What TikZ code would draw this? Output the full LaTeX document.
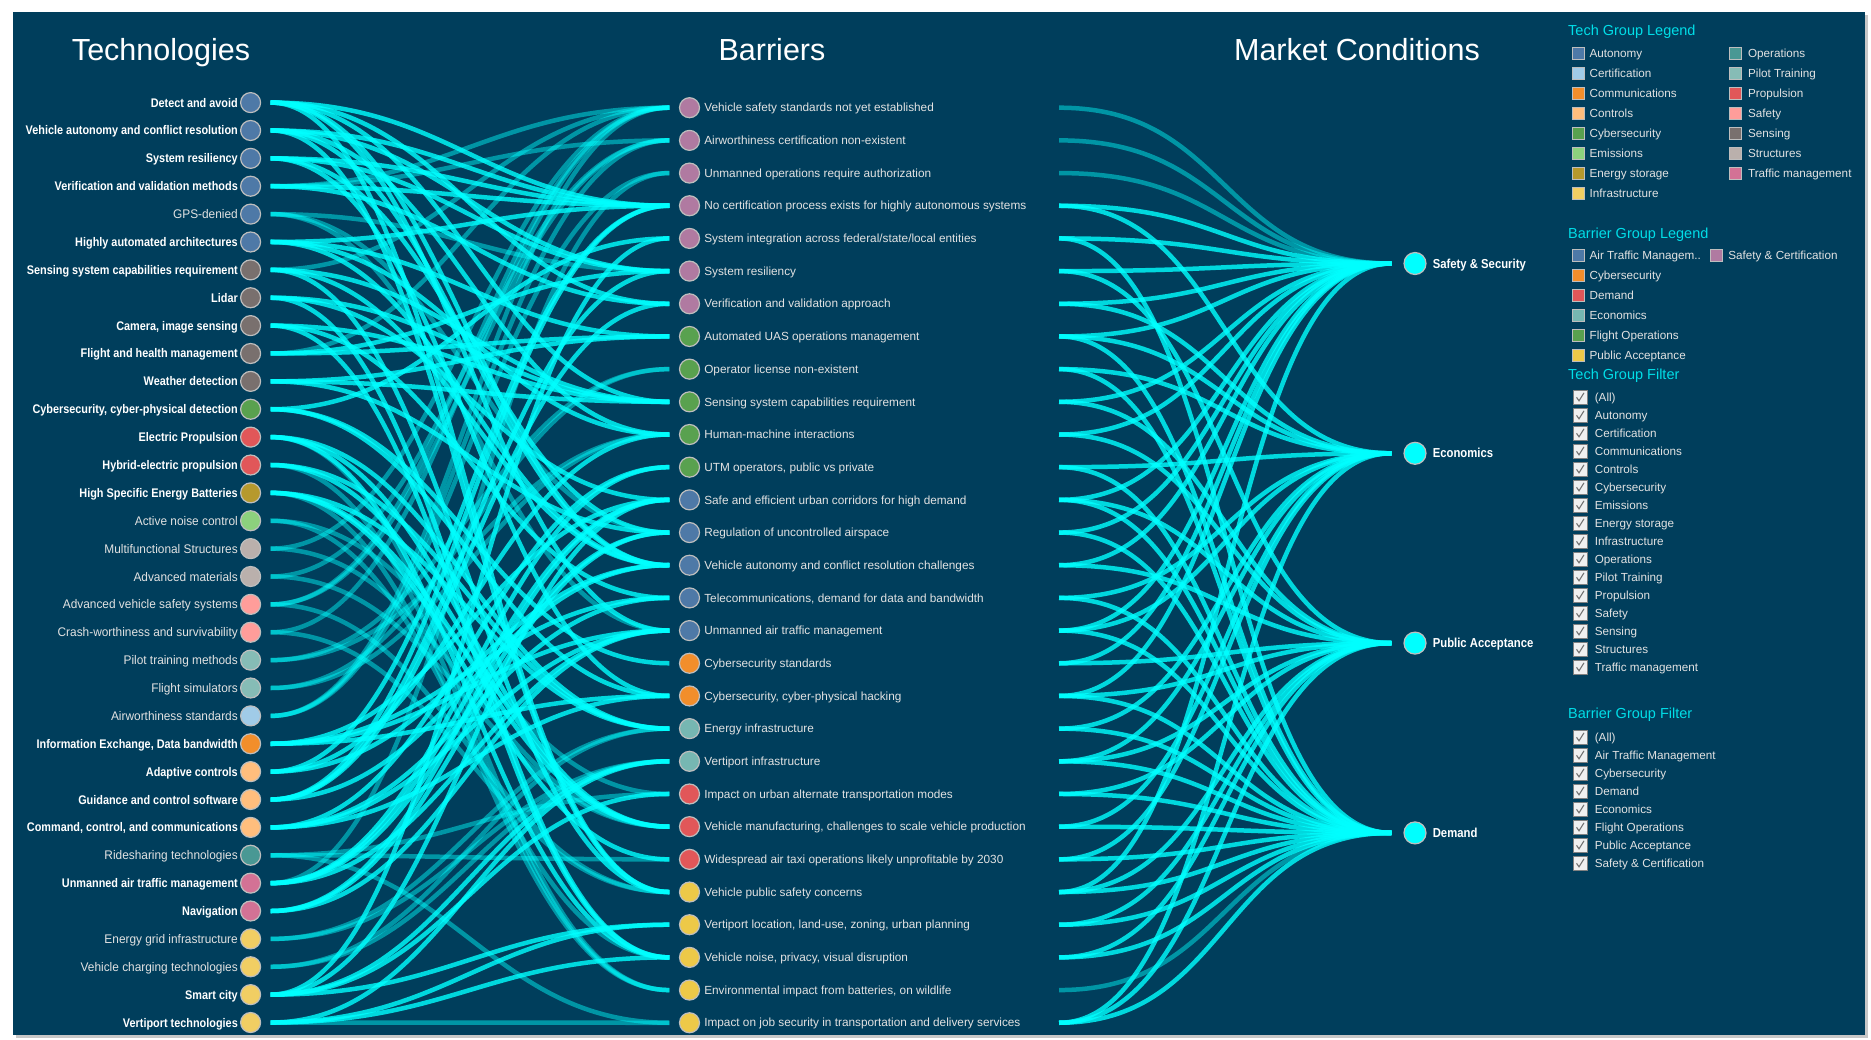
\documentclass[tikz,border=0pt]{standalone}
\usepackage{fontspec}
\setmainfont{Liberation Sans}
\newfontfamily\narrowfont{Liberation Sans}[FakeStretch=0.87]
\newfontfamily\slimfont{Liberation Sans}[FakeStretch=0.95]
\usepackage{tikz}
\usetikzlibrary{positioning}

\definecolor{bgblue}{RGB}{0,62,92}
\definecolor{flowcyan}{RGB}{0,255,255}
\definecolor{headcyan}{RGB}{0,222,232}
\definecolor{softwhite}{RGB}{226,226,226}
\definecolor{ringgray}{RGB}{190,190,190}
% group colours
\definecolor{gAut}{RGB}{78,121,167}
\definecolor{gCer}{RGB}{160,203,232}
\definecolor{gCom}{RGB}{242,142,43}
\definecolor{gCtl}{RGB}{255,190,125}
\definecolor{gCyb}{RGB}{89,161,79}
\definecolor{gEmi}{RGB}{140,209,125}
\definecolor{gEne}{RGB}{182,153,45}
\definecolor{gInf}{RGB}{241,206,99}
\definecolor{gOps}{RGB}{73,152,148}
\definecolor{gPil}{RGB}{134,188,182}
\definecolor{gPro}{RGB}{225,87,89}
\definecolor{gSaf}{RGB}{255,157,154}
\definecolor{gSen}{RGB}{121,112,110}
\definecolor{gStr}{RGB}{186,176,172}
\definecolor{gTra}{RGB}{211,114,149}
\definecolor{bEco}{RGB}{118,183,178}
\definecolor{bPub}{RGB}{237,201,72}
\definecolor{bSC}{RGB}{176,122,161}

\begin{document}
\begin{tikzpicture}[x=1pt, y=-1pt,
    dot/.style={circle, minimum size=20pt, inner sep=0pt, draw=ringgray, line width=1.2pt},
    bigdot/.style={circle, minimum size=22pt, inner sep=0pt, fill=flowcyan, draw=ringgray, line width=1.2pt},
    techbold/.style={inner sep=0pt, text height=9pt, text depth=0pt, text=white, font=\narrowfont\bfseries\fontsize{12.5}{14}\selectfont},
    technorm/.style={inner sep=0pt, text height=9pt, text depth=0pt, text=softwhite, font=\slimfont\fontsize{12.5}{14}\selectfont},
    barlbl/.style={inner sep=0pt, text height=8.4pt, text depth=0pt, text=softwhite, font=\fontsize{11.8}{14}\selectfont},
    mktlbl/.style={techbold, font=\narrowfont\bfseries\fontsize{13}{15}\selectfont},
    heading/.style={anchor=base, text=white, font=\fontsize{30.5}{34}\selectfont},
    legtitle/.style={anchor=mid west, inner sep=0pt, text=headcyan, font=\fontsize{14.5}{17}\selectfont},
    legtext/.style={inner sep=0pt, text height=8.4pt, text depth=0pt, text=softwhite, font=\fontsize{11.7}{14}\selectfont},
    swatch/.style={minimum size=12pt, inner sep=0pt, draw=ringgray, line width=0.8pt},
    tickbox/.style={minimum size=14pt, inner sep=0pt, fill=white!94!black, draw=gray, line width=0.6pt},
    checkmk/.style={draw=gray!90!black, line width=1.1pt},
    flowhi/.style={flowcyan, line width=4.5pt, opacity=0.8},
    flowlo/.style={flowcyan, line width=4.5pt, opacity=0.45}
  ]
    \useasboundingbox (0,0) rectangle (1871,1039);
    \fill[white] (0,0) rectangle (1871,1039);
    \fill[black!22] (16,15) rectangle (1868,1038);
    \fill[bgblue] (13,12) rectangle (1865,1035);

    % Column headings
    \node[heading] (hTech) at (161,60) {Technologies};
    \node[heading] (hBar) at (772,60) {Barriers};
    \node[heading] (hMkt) at (1357,60) {Market Conditions};

    % Technologies
    \foreach \i/\txt/\col/\sty in {
        1/Detect and avoid/gAut/techbold,
        2/Vehicle autonomy and conflict resolution/gAut/techbold,
        3/System resiliency/gAut/techbold,
        4/Verification and validation methods/gAut/techbold,
        5/GPS-denied/gAut/technorm,
        6/Highly automated architectures/gAut/techbold,
        7/Sensing system capabilities requirement/gSen/techbold,
        8/Lidar/gSen/techbold,
        9/{Camera, image sensing}/gSen/techbold,
        10/Flight and health management/gSen/techbold,
        11/Weather detection/gSen/techbold,
        12/{Cybersecurity, cyber-physical detection}/gCyb/techbold,
        13/Electric Propulsion/gPro/techbold,
        14/Hybrid-electric propulsion/gPro/techbold,
        15/High Specific Energy Batteries/gEne/techbold,
        16/Active noise control/gEmi/technorm,
        17/Multifunctional Structures/gStr/technorm,
        18/Advanced materials/gStr/technorm,
        19/Advanced vehicle safety systems/gSaf/technorm,
        20/Crash-worthiness and survivability/gSaf/technorm,
        21/Pilot training methods/gPil/technorm,
        22/Flight simulators/gPil/technorm,
        23/Airworthiness standards/gCer/technorm,
        24/{Information Exchange, Data bandwidth}/gCom/techbold,
        25/Adaptive controls/gCtl/techbold,
        26/Guidance and control software/gCtl/techbold,
        27/{Command, control, and communications}/gCtl/techbold,
        28/Ridesharing technologies/gOps/technorm,
        29/Unmanned air traffic management/gTra/techbold,
        30/Navigation/gTra/techbold,
        31/Energy grid infrastructure/gInf/technorm,
        32/Vehicle charging technologies/gInf/technorm,
        33/Smart city/gInf/techbold,
        34/Vertiport technologies/gInf/techbold} {
        \pgfmathsetmacro\ty{102.6+(\i-1)*27.876}
        \node[dot, fill=\col] (tech\i) at (250.6,\ty) {};
        \node[\sty, left=2pt of tech\i] {\txt};
        \coordinate (tout\i) at ([xshift=9.5pt]tech\i.east);
    }

    % Barriers
    \foreach \j/\txt/\col in {
        1/Vehicle safety standards not yet established/bSC,
        2/Airworthiness certification non-existent/bSC,
        3/Unmanned operations require authorization/bSC,
        4/No certification process exists for highly autonomous systems/bSC,
        5/{System integration across federal/state/local entities}/bSC,
        6/System resiliency/bSC,
        7/Verification and validation approach/bSC,
        8/Automated UAS operations management/gCyb,
        9/Operator license non-existent/gCyb,
        10/Sensing system capabilities requirement/gCyb,
        11/Human-machine interactions/gCyb,
        12/{UTM operators, public vs private}/gCyb,
        13/Safe and efficient urban corridors for high demand/gAut,
        14/Regulation of uncontrolled airspace/gAut,
        15/Vehicle autonomy and conflict resolution challenges/gAut,
        16/{Telecommunications, demand for data and bandwidth}/gAut,
        17/Unmanned air traffic management/gAut,
        18/Cybersecurity standards/gCom,
        19/{Cybersecurity, cyber-physical hacking}/gCom,
        20/Energy infrastructure/bEco,
        21/Vertiport infrastructure/bEco,
        22/Impact on urban alternate transportation modes/gPro,
        23/{Vehicle manufacturing, challenges to scale vehicle production}/gPro,
        24/Widespread air taxi operations likely unprofitable by 2030/gPro,
        25/Vehicle public safety concerns/bPub,
        26/{Vertiport location, land-use, zoning, urban planning}/bPub,
        27/{Vehicle noise, privacy, visual disruption}/bPub,
        28/{Environmental impact from batteries, on wildlife}/bPub,
        29/Impact on job security in transportation and delivery services/bPub} {
        \pgfmathsetmacro\by{107.7+(\j-1)*32.68}
        \node[dot, fill=\col] (bar\j) at (689.5,\by) {};
        \node[barlbl, right=4pt of bar\j] {\txt};
        \coordinate (bin\j) at ([xshift=-9.5pt]bar\j.west);
        \coordinate (bout\j) at (1059,\by);
    }

    % Market conditions
    \foreach \k/\txt/\my in {1/Safety \& Security/263.5, 2/Economics/453.3, 3/Public Acceptance/643.1, 4/Demand/832.9} {
        \node[bigdot] (mkt\k) at (1415,\my) {};
        \node[mktlbl, right=6pt of mkt\k] {\txt};
        \coordinate (min\k) at ([xshift=-12pt]mkt\k.west);
    }

    % Technology -> barrier flows
    \foreach \s/\t in {
        1/4, 1/7, 1/10, 1/15, 1/17, 1/25,
        2/4, 2/6, 2/15, 2/11, 2/25,
        3/6, 3/4, 3/19, 3/14,
        4/7, 4/4,
        6/4, 6/8, 6/15, 6/11,
        7/10, 7/15, 7/25,
        8/10, 8/27, 8/13,
        9/10, 9/27, 9/16,
        10/8, 10/6,
        11/10, 11/14, 11/8,
        12/18, 12/19, 12/5,
        13/20, 13/23, 13/27,
        14/20, 14/23,
        15/20, 15/24, 15/23,
        24/16, 24/19, 24/17, 24/13,
        25/15, 25/11, 25/4,
        26/7, 26/15, 26/6, 26/4,
        27/16, 27/17, 27/12, 27/19,
        29/17, 29/12, 29/13, 29/14,
        30/13, 30/14, 30/17,
        33/21, 33/26, 33/13, 33/22, 33/5,
        34/21, 34/26, 34/27} {
        \draw[flowhi] (tout\s) .. controls +(180,0) and +(-180,0) .. (bin\t);
    }
    \foreach \s/\t in {
        4/2, 4/1, 7/1, 10/1, 29/3, 13/28, 14/28, 15/28, 34/29,
        5/14, 5/17, 5/6,
        16/27, 16/22,
        17/23, 17/1,
        18/23, 18/2,
        19/1, 19/25, 19/2,
        20/1, 20/25,
        21/9, 21/11,
        22/9, 22/11,
        23/2, 23/1, 23/3,
        28/22, 28/24, 28/29,
        31/20, 31/21,
        32/20, 32/21} {
        \draw[flowlo] (tout\s) .. controls +(180,0) and +(-180,0) .. (bin\t);
    }

    % Barrier -> market flows
    \foreach \b/\m in {
        4/1, 4/2, 5/1, 5/4, 6/1, 6/3, 7/1, 7/2, 8/2, 8/4, 8/1,
        9/2, 9/4, 10/1, 10/3, 11/3, 11/1, 12/2, 12/4, 13/3, 13/4, 13/1,
        14/1, 14/4, 15/1, 15/3, 16/2, 16/4, 17/1, 17/2, 17/4,
        18/1, 18/3, 19/1, 19/3, 19/4, 20/2, 20/4, 21/2, 21/3, 21/4,
        22/4, 22/3, 23/2, 23/4, 24/2, 24/4, 25/3, 25/4, 25/1,
        26/3, 26/4, 27/3, 27/4, 29/2, 29/4, 29/3} {
        \draw[flowhi] (bout\b) .. controls +(170,0) and +(-170,0) .. (min\m);
    }
    \foreach \b/\m in {1/1, 2/1, 3/1, 28/4} {
        \draw[flowlo] (bout\b) .. controls +(170,0) and +(-170,0) .. (min\m);
    }

    % Tech group legend
    \node[legtitle] (techLegend) at (1568,33.3) {Tech Group Legend};
    \foreach \r/\txt/\col in {1/Autonomy/gAut, 2/Certification/gCer, 3/Communications/gCom,
        4/Controls/gCtl, 5/Cybersecurity/gCyb, 6/Emissions/gEmi, 7/Energy storage/gEne,
        8/Infrastructure/gInf} {
        \pgfmathsetmacro\ly{53.3+(\r-1)*20}
        \node[swatch, fill=\col] (tsa\r) at (1578,\ly) {};
        \node[legtext, right=5pt of tsa\r] {\txt};
    }
    \foreach \r/\txt/\col in {1/Operations/gOps, 2/Pilot Training/gPil, 3/Propulsion/gPro,
        4/Safety/gSaf, 5/Sensing/gSen, 6/Structures/gStr, 7/Traffic management/gTra} {
        \pgfmathsetmacro\ly{53.3+(\r-1)*20}
        \node[swatch, fill=\col] (tsb\r) at (1735,\ly) {};
        \node[legtext, right=6.5pt of tsb\r] {\txt};
    }

    % Barrier group legend
    \node[legtitle] (barLegend) at (1568,236) {Barrier Group Legend};
    \foreach \r/\txt/\col in {1/Air Traffic Managem../gAut, 2/Cybersecurity/gCom, 3/Demand/gPro,
        4/Economics/bEco, 5/Flight Operations/gCyb, 6/Public Acceptance/bPub} {
        \pgfmathsetmacro\ly{255+(\r-1)*20}
        \node[swatch, fill=\col] (bsa\r) at (1578,\ly) {};
        \node[legtext, right=5pt of bsa\r] {\txt};
    }
    \node[swatch, fill=bSC] (bsb1) at (1716,255) {};
    \node[legtext, right=5.7pt of bsb1] {Safety \& Certification};

    % Tech group filter
    \node[legtitle] (techFilter) at (1568,376.7) {Tech Group Filter};
    \foreach \r/\txt in {1/(All), 2/Autonomy, 3/Certification, 4/Communications, 5/Controls,
        6/Cybersecurity, 7/Emissions, 8/Energy storage, 9/Infrastructure, 10/Operations,
        11/Pilot Training, 12/Propulsion, 13/Safety, 14/Sensing, 15/Structures,
        16/Traffic management} {
        \pgfmathsetmacro\ly{397.3+(\r-1)*18}
        \node[tickbox] (tf\r) at (1580.5,\ly) {};
        \draw[checkmk] ([xshift=-4pt]tf\r.center) -- ++(2.5,3.5) -- ++(5,-8);
        \node[legtext, right=6.8pt of tf\r] {\txt};
    }

    % Barrier group filter
    \node[legtitle] (barFilter) at (1568,716) {Barrier Group Filter};
    \foreach \r/\txt in {1/(All), 2/Air Traffic Management, 3/Cybersecurity, 4/Demand,
        5/Economics, 6/Flight Operations, 7/Public Acceptance, 8/Safety \& Certification} {
        \pgfmathsetmacro\ly{737.3+(\r-1)*18}
        \node[tickbox] (bf\r) at (1580.5,\ly) {};
        \draw[checkmk] ([xshift=-4pt]bf\r.center) -- ++(2.5,3.5) -- ++(5,-8);
        \node[legtext, right=6.8pt of bf\r] {\txt};
    }
\end{tikzpicture}
\end{document}
